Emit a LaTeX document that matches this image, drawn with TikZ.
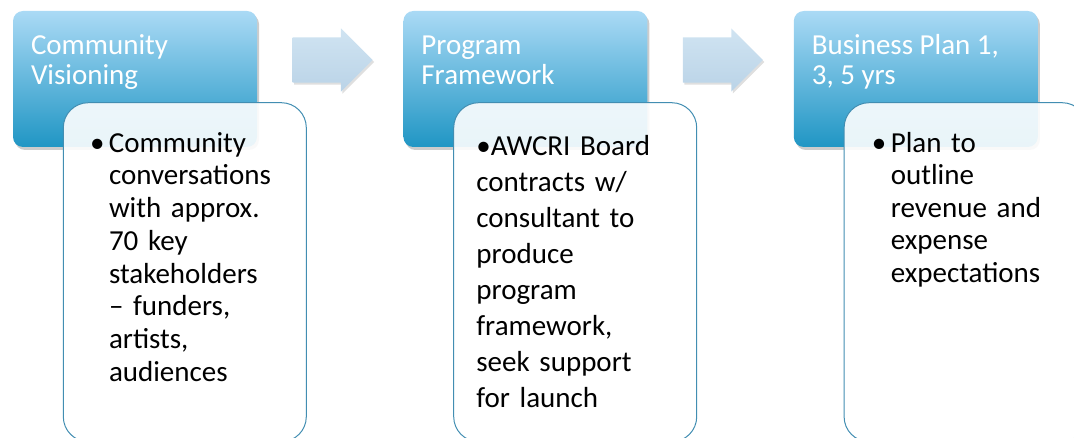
\documentclass[tikz,border=0pt]{standalone}
\usepackage{fontspec}
\setmainfont{Carlito}
\usetikzlibrary{positioning,shapes.arrows,shadows,calc}

\definecolor{hdrtop}{RGB}{170,218,245}
\definecolor{hdrbot}{RGB}{32,150,196}
\definecolor{arrtop}{RGB}{208,228,242}
\definecolor{arrbot}{RGB}{186,211,231}
\definecolor{dtlline}{RGB}{66,142,178}

\tikzset{
  hdr/.style={rounded corners=10pt, minimum width=244pt, minimum height=136pt, inner sep=0pt,
    top color=hdrtop, bottom color=hdrbot,
    drop shadow={opacity=0.4, shadow xshift=2pt, shadow yshift=-3pt}},
  hdrtext/.style={anchor=north west, inner sep=0pt, text=white, align=left,
    font=\fontsize{29}{30}\selectfont},
  dtl/.style={draw=dtlline, line width=1pt, rounded corners=25pt, fill=white, fill opacity=0.9,
    minimum width=243pt, minimum height=339pt, anchor=north west},
  dtltext/.style={anchor=north west, inner sep=0pt, text width=210pt},
  flowarrow/.style={single arrow, single arrow head extend=9pt, inner xsep=0pt, inner ysep=22.5pt,
    minimum height=80pt, top color=arrtop, bottom color=arrbot,
    drop shadow={opacity=0.25, shadow xshift=1.5pt, shadow yshift=-2pt}}
}

\begin{document}
\begin{tikzpicture}[x=1pt, y=-1pt]
	\clip (0,0) rectangle (1074,438);
	% step headers
	\node[hdr] (vis) at (135,79) {};
	\node[hdr, right=146pt of vis] (frm) {};
	\node[hdr, right=146pt of frm] (biz) {};
	% arrows between the steps
	\node[flowarrow] (ar1) at ($(vis.east)!0.5!(frm.west)+(-9,-19)$) {};
	\node[flowarrow] (ar2) at ($(frm.east)!0.5!(biz.west)+(-9,-19)$) {};
	\node[hdrtext] (vist) at ($(vis.north west)+(18,23)$) {\strut Community\\Visioning};
	\node[hdrtext] (frmt) at ($(frm.north west)+(18,23)$) {\strut Program\\Framework};
	\node[hdrtext] (bizt) at ($(biz.north west)+(18,23)$) {\strut Business Plan 1,\\3, 5 yrs};
	% detail boxes
	\node[dtl] (visd) at ($(vis.south west)+(50,-45)$) {};
	\node[dtl] (frmd) at ($(frm.south west)+(50,-45)$) {};
	\node[dtl] (bizd) at ($(biz.south west)+(50,-45)$) {};
	\node[dtltext, font=\fontsize{29}{32.7}\selectfont] (visdt) at ($(visd.north west)+(27,27)$) {%
		\noindent\hangindent=19pt\hangafter=1\makebox[19pt][l]{•}\strut Community\newline
		conversations\newline with approx.\newline 70 key\newline stakeholders\newline
		– funders,\newline artists,\newline audiences\par};
	\node[dtltext, font=\fontsize{29}{36}\selectfont] (frmdt) at ($(frmd.north west)+(23,28)$) {%
		\noindent\strut •AWCRI Board\newline contracts w/\newline consultant to\newline
		produce\newline program\newline framework,\newline seek support\newline for launch\par};
	\node[dtltext, font=\fontsize{29}{32.5}\selectfont] (bizdt) at ($(bizd.north west)+(28,27)$) {%
		\noindent\hangindent=19pt\hangafter=1\makebox[19pt][l]{•}\strut Plan to\newline
		outline\newline revenue and\newline expense\newline expectations\par};
\end{tikzpicture}
\end{document}
